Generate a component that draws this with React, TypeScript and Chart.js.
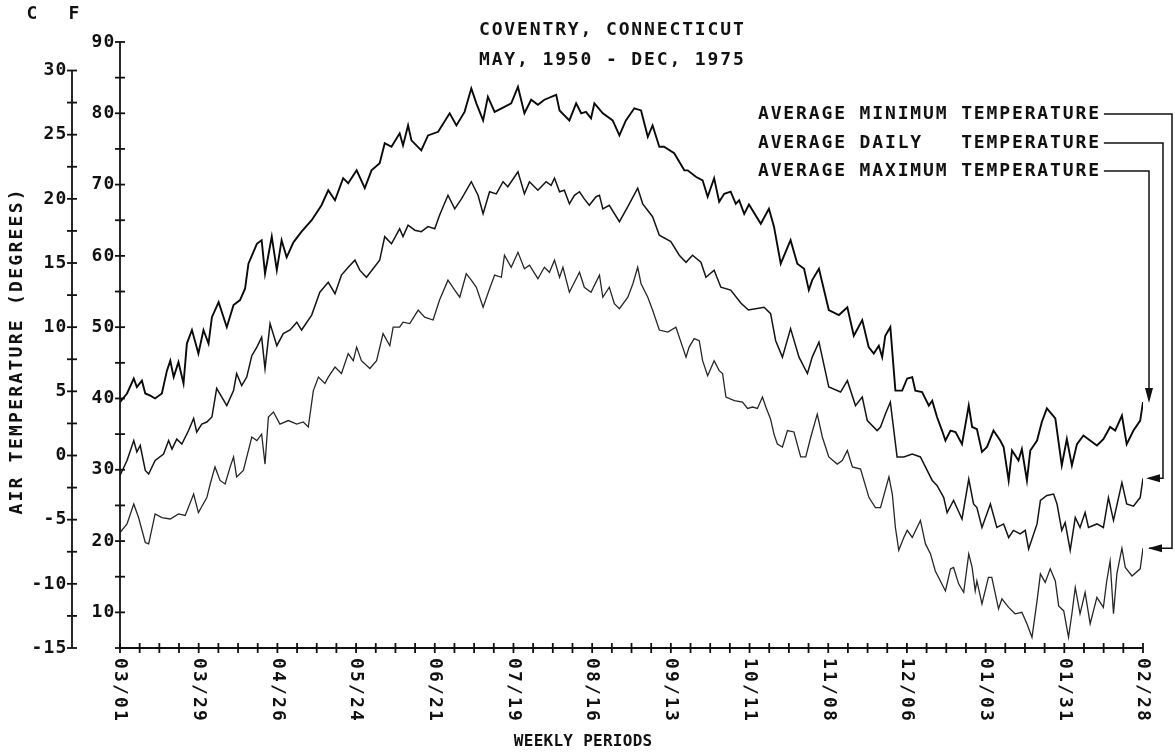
import React, { useEffect, useRef } from "react";
import { Chart, registerables } from "chart.js";

Chart.register(...registerables);

// ---------- text ----------
const titleLines = ["COVENTRY, CONNECTICUT", "MAY, 1950 - DEC, 1975"];
const legendLabels = [
  "AVERAGE MINIMUM TEMPERATURE",
  "AVERAGE DAILY   TEMPERATURE",
  "AVERAGE MAXIMUM TEMPERATURE",
];
const yTitle = "AIR TEMPERATURE (DEGREES)";
const xTitle = "WEEKLY PERIODS";

// ---------- ticks ----------
const xTickDays = [0, 28, 56, 84, 112, 140, 168, 196, 224, 252, 280, 308, 336, 364];
const xTickLabels = ["03/01", "03/29", "04/26", "05/24", "06/21", "07/19", "08/16", "09/13", "10/11", "11/08", "12/06", "01/03", "01/31", "02/28"];
const fLabelTicks = [10, 20, 30, 40, 50, 60, 70, 80, 90];
const fMinorTicks = [5, 10, 15, 20, 25, 30, 35, 40, 45, 50, 55, 60, 65, 70, 75, 80, 85, 90];
const cLabelTicks = [-15, -10, -5, 0, 5, 10, 15, 20, 25, 30];
const cMinorTicks = [-15, -12.5, -10, -7.5, -5, -2.5, 0, 2.5, 5, 7.5, 10, 12.5, 15, 17.5, 20, 22.5, 25, 27.5, 30];

// ---------- data (day from 03/01, degrees F) ----------
const maxDays = [0, 2.5, 4.9, 6.0, 7.8, 9.0, 10.8, 12.5, 14.9, 16.7, 17.9, 19.1, 20.8, 22.6, 23.8, 25.6, 27.9, 29.7, 31.5, 32.7, 35.1, 38.0, 40.4, 42.7, 44.5, 45.7, 48.7, 50.4, 51.6, 54.0, 55.8, 57.5, 59.3, 61.7, 64.6, 68.2, 71.7, 74.1, 76.5, 79.4, 81.2, 84.2, 87.1, 89.5, 92.4, 94.2, 96.6, 99.5, 100.7, 102.5, 103.7, 107.2, 109.6, 113.2, 117.3, 119.7, 122.6, 125.0, 126.8, 129.2, 130.9, 133.3, 136.8, 139.2, 141.6, 143.9, 146.3, 148.7, 151.0, 155.2, 156.4, 159.9, 162.3, 164.1, 165.8, 167.6, 168.8, 171.8, 175.3, 177.7, 180.0, 183.0, 185.4, 187.8, 189.5, 191.9, 193.6, 197.2, 200.8, 202.0, 204.9, 207.3, 209.1, 211.4, 213.2, 215.0, 217.3, 219.1, 220.3, 222.1, 223.8, 228.0, 230.9, 232.7, 235.1, 238.6, 241.0, 243.4, 245.1, 246.3, 248.7, 252.2, 255.8, 258.8, 261.1, 264.1, 266.4, 268.2, 270.0, 271.2, 272.3, 274.1, 275.9, 278.3, 280.1, 281.9, 283.0, 285.4, 287.8, 289.0, 290.7, 292.5, 293.7, 295.5, 297.3, 299.6, 302.0, 303.2, 304.9, 306.7, 308.5, 310.8, 313.2, 314.4, 316.2, 317.4, 319.7, 320.9, 322.7, 323.9, 326.3, 328.0, 329.8, 332.8, 335.1, 336.9, 338.7, 340.5, 342.8, 347.6, 349.9, 352.3, 354.1, 356.5, 358.2, 360.6, 363.0, 364];
const maxTemps = [39.5, 40.7, 42.8, 41.6, 42.5, 40.7, 40.4, 40.0, 40.7, 43.9, 45.3, 43.0, 45.1, 42.1, 47.7, 49.6, 46.3, 49.6, 47.7, 51.4, 53.5, 50.0, 53.1, 53.8, 55.4, 58.9, 61.7, 62.2, 57.5, 62.7, 58.0, 62.2, 59.8, 61.9, 63.4, 65.0, 67.1, 69.2, 67.8, 70.9, 70.2, 72.0, 69.5, 72.0, 73.0, 75.8, 75.3, 77.2, 75.5, 78.3, 76.2, 74.8, 76.9, 77.4, 80.0, 78.3, 80.2, 83.5, 81.4, 79.0, 82.3, 80.2, 80.9, 81.4, 83.7, 80.0, 81.9, 81.2, 81.9, 82.6, 80.4, 79.0, 81.4, 80.0, 80.2, 79.3, 81.4, 80.0, 79.0, 76.9, 79.0, 80.7, 80.4, 76.7, 78.3, 75.3, 75.3, 74.4, 72.0, 72.0, 71.1, 70.6, 68.3, 70.9, 67.6, 68.7, 69.0, 67.3, 67.8, 65.9, 67.2, 64.5, 66.6, 64.1, 58.9, 62.2, 58.9, 58.2, 55.2, 56.6, 58.2, 52.4, 51.7, 52.8, 48.8, 51.0, 47.2, 46.3, 47.4, 45.8, 48.8, 50.0, 41.1, 41.1, 42.8, 43.0, 41.1, 40.9, 39.0, 39.7, 37.4, 35.5, 34.1, 35.5, 35.3, 33.6, 39.0, 36.0, 35.7, 32.5, 33.2, 35.5, 34.1, 33.2, 28.5, 32.7, 31.3, 32.9, 28.5, 32.7, 34.1, 36.7, 38.6, 37.2, 30.6, 34.3, 30.6, 33.6, 34.8, 33.4, 34.3, 36.0, 35.5, 37.6, 33.6, 35.5, 36.9, 39.5];

const dailyDays = [0, 2.5, 4.9, 6.0, 7.2, 9.0, 10.2, 12.5, 15.5, 17.3, 18.5, 20.2, 22.0, 24.4, 26.2, 27.3, 29.1, 30.9, 32.7, 34.4, 38.0, 40.4, 41.5, 43.3, 45.1, 46.9, 48.7, 50.4, 51.6, 53.4, 55.8, 58.1, 60.5, 62.9, 64.6, 68.2, 71.1, 74.1, 76.5, 78.8, 81.2, 83.6, 85.3, 87.7, 92.4, 94.2, 96.6, 99.5, 100.7, 102.5, 104.9, 107.2, 109.6, 112.0, 113.7, 116.7, 119.1, 121.5, 125.0, 127.4, 129.2, 131.5, 133.9, 136.3, 138.0, 141.6, 143.9, 145.7, 148.7, 151.6, 153.4, 154.6, 156.4, 158.1, 159.9, 161.7, 163.5, 165.2, 167.0, 169.4, 170.6, 171.8, 174.1, 177.7, 180.7, 184.2, 186.0, 189.5, 191.9, 196.0, 199.0, 201.4, 203.7, 206.7, 208.5, 211.4, 213.8, 217.3, 220.9, 223.6, 229.2, 231.5, 233.3, 235.7, 238.6, 241.6, 244.6, 246.3, 248.7, 252.2, 256.4, 258.8, 261.7, 264.1, 265.9, 269.4, 270.6, 272.3, 274.1, 276.5, 278.9, 281.9, 284.8, 289.0, 290.7, 293.1, 294.3, 296.6, 299.6, 302.0, 303.7, 304.9, 306.7, 309.7, 312.0, 314.4, 316.2, 317.9, 320.3, 322.1, 323.3, 326.3, 327.5, 329.8, 332.2, 333.4, 335.1, 336.3, 338.1, 339.9, 341.6, 343.4, 344.6, 347.6, 349.9, 351.7, 353.5, 356.5, 358.2, 360.6, 363.0, 364];
const dailyTemps = [29.2, 31.3, 34.1, 32.5, 33.4, 29.9, 29.4, 31.3, 32.2, 34.1, 32.9, 34.3, 33.6, 35.5, 37.2, 35.3, 36.4, 36.7, 37.4, 41.4, 39.0, 41.1, 43.5, 41.8, 43.0, 46.0, 47.2, 48.6, 44.2, 50.5, 47.4, 49.1, 49.6, 50.7, 49.6, 51.7, 54.9, 56.3, 54.7, 57.3, 58.4, 59.4, 58.0, 57.0, 59.4, 62.7, 61.7, 63.8, 62.7, 64.3, 63.6, 63.4, 64.1, 63.8, 65.7, 68.5, 66.6, 68.0, 70.4, 68.5, 65.9, 69.0, 68.7, 70.4, 69.7, 71.8, 68.7, 70.4, 69.2, 70.4, 69.9, 70.9, 69.0, 69.2, 67.3, 68.5, 69.0, 68.0, 67.1, 68.3, 68.5, 66.6, 67.1, 64.8, 66.9, 69.5, 67.3, 65.5, 62.9, 62.0, 60.1, 59.1, 60.1, 59.1, 57.0, 58.0, 55.6, 55.2, 53.4, 52.4, 52.8, 51.9, 48.1, 45.8, 49.8, 45.8, 43.5, 45.8, 47.9, 41.6, 40.9, 42.5, 39.0, 40.2, 36.9, 35.5, 36.0, 37.8, 39.5, 31.8, 31.8, 32.2, 31.8, 28.5, 27.8, 26.1, 24.0, 25.7, 23.1, 28.7, 25.2, 24.7, 21.9, 25.2, 21.9, 22.4, 20.5, 21.5, 21.0, 21.5, 18.9, 22.4, 25.7, 26.4, 26.6, 25.2, 21.5, 22.6, 18.7, 23.3, 21.9, 24.0, 21.9, 22.4, 21.9, 26.1, 22.9, 28.2, 25.2, 24.9, 26.1, 28.8];

const minDays = [0, 2.5, 4.9, 6.6, 9.0, 10.2, 12.5, 14.9, 17.9, 20.8, 23.2, 26.2, 27.9, 30.9, 32.1, 33.8, 35.6, 37.4, 39.2, 40.4, 41.5, 43.9, 46.9, 48.7, 50.4, 51.6, 52.8, 54.6, 56.9, 59.9, 62.9, 65.2, 67.0, 68.8, 70.6, 72.9, 74.1, 76.5, 78.8, 81.2, 83.0, 84.2, 85.9, 88.9, 91.3, 93.6, 96.0, 97.2, 99.5, 100.7, 103.1, 106.1, 108.4, 111.4, 113.7, 116.7, 119.1, 120.9, 123.2, 125.0, 126.8, 129.2, 131.5, 133.3, 135.7, 136.8, 139.2, 141.6, 143.9, 145.7, 148.7, 151.0, 152.8, 154.6, 156.4, 157.6, 159.9, 163.5, 165.2, 167.6, 170.6, 171.8, 174.1, 175.9, 177.7, 180.7, 182.5, 184.2, 185.4, 187.8, 189.5, 191.9, 194.9, 197.8, 200.2, 201.4, 202.5, 204.3, 206.1, 207.3, 209.1, 211.4, 213.2, 214.4, 215.6, 218.6, 221.5, 223.3, 225.1, 226.8, 228.6, 229.8, 231.5, 232.7, 233.9, 235.7, 237.5, 239.8, 242.2, 244.0, 245.8, 248.1, 249.9, 252.2, 255.2, 257.0, 258.8, 260.6, 263.5, 266.5, 268.8, 270.6, 273.6, 274.8, 275.9, 277.1, 278.9, 280.1, 281.9, 284.8, 286.6, 288.4, 290.1, 291.9, 293.7, 295.5, 296.6, 298.4, 300.2, 302.0, 303.2, 304.3, 304.9, 306.7, 309.0, 310.2, 312.6, 313.8, 316.2, 318.5, 320.9, 322.7, 324.5, 326.3, 327.5, 329.2, 331.0, 332.8, 334.0, 335.8, 337.5, 338.7, 339.9, 341.6, 343.4, 345.2, 347.6, 349.9, 351.1, 352.3, 353.5, 354.7, 356.5, 357.7, 360.1, 363.0, 364];
const minTemps = [21.2, 22.4, 25.2, 23.3, 19.8, 19.6, 23.8, 23.3, 23.1, 23.8, 23.6, 26.6, 24.0, 26.1, 28.0, 30.4, 28.5, 28.0, 30.4, 31.8, 29.0, 29.9, 34.6, 34.1, 35.0, 30.8, 37.4, 38.1, 36.4, 36.9, 36.4, 36.7, 36.0, 41.1, 43.0, 42.1, 43.0, 44.4, 43.5, 46.3, 45.3, 47.2, 45.3, 44.2, 45.3, 49.1, 47.4, 50.0, 50.0, 50.7, 50.5, 52.4, 51.4, 51.0, 53.8, 56.6, 55.2, 54.2, 57.5, 56.6, 55.6, 52.8, 55.4, 57.3, 57.0, 60.1, 58.4, 60.5, 58.2, 58.7, 56.8, 58.4, 57.7, 59.4, 57.0, 58.4, 54.9, 57.7, 55.6, 54.9, 57.3, 54.2, 55.6, 53.3, 52.6, 54.2, 56.1, 58.4, 56.1, 54.2, 52.4, 49.6, 49.3, 50.0, 47.2, 45.8, 47.2, 48.4, 48.1, 45.3, 43.2, 45.3, 43.9, 43.5, 40.2, 39.7, 39.5, 38.6, 38.8, 38.6, 40.2, 38.8, 37.1, 35.0, 33.6, 33.2, 35.5, 35.3, 31.8, 31.8, 34.6, 37.8, 34.6, 31.8, 30.8, 31.3, 32.7, 30.4, 30.1, 26.1, 24.7, 24.7, 29.0, 26.6, 21.9, 18.7, 20.5, 21.5, 20.5, 22.9, 19.6, 18.2, 15.8, 14.4, 13.0, 16.1, 16.3, 14.0, 12.8, 18.2, 16.3, 13.0, 14.4, 11.2, 14.9, 14.9, 10.5, 11.9, 10.7, 9.8, 10.0, 8.4, 6.5, 11.6, 15.4, 14.2, 16.1, 14.4, 10.9, 10.2, 6.5, 9.8, 13.5, 9.8, 12.8, 8.4, 12.1, 10.7, 14.4, 17.2, 9.8, 15.4, 19.0, 16.3, 15.1, 16.1, 19.0];

// ---------- style ----------
const INK = "#111111";
const FONT = "DejaVu Sans Mono";

const c2f = (c: number) => (c * 9) / 5 + 32;

function drawSpaced(ctx: CanvasRenderingContext2D, text: string, x: number, y: number, adv: number, align: "left" | "center" | "right") {
  const total = text.length * adv;
  const start = align === "left" ? x : align === "center" ? x - total / 2 : x - total;
  ctx.textAlign = "center";
  ctx.textBaseline = "middle";
  for (let i = 0; i < text.length; i++) {
    ctx.fillText(text[i], start + adv * (i + 0.5), y);
  }
}

function seg(ctx: CanvasRenderingContext2D, x1: number, y1: number, x2: number, y2: number) {
  ctx.beginPath();
  ctx.moveTo(x1, y1);
  ctx.lineTo(x2, y2);
  ctx.stroke();
}

const plotterPlugin = {
  id: "plotterAxes",
  afterDraw(chart: any) {
    const ctx: CanvasRenderingContext2D = chart.ctx;
    const xs = chart.scales.x;
    const ys = chart.scales.y;
    const X = (d: number) => xs.getPixelForValue(d);
    const Y = (f: number) => ys.getPixelForValue(f);
    ctx.save();
    ctx.strokeStyle = INK;
    ctx.fillStyle = INK;
    ctx.lineWidth = 1.8;
    const F18 = `bold 18px "${FONT}"`;
    ctx.font = F18;
    const ADV = 12.7;

    // F axis
    const fx = X(0);
    seg(ctx, fx, Y(90), fx, Y(5));
    fMinorTicks.forEach((f) => seg(ctx, fx - 5, Y(f), fx + 5, Y(f)));
    fLabelTicks.forEach((f) => drawSpaced(ctx, String(f), fx - 5, Y(f), 12, "right"));

    // C axis
    const cx = 72;
    seg(ctx, cx, Y(c2f(30)), cx, Y(c2f(-15)));
    cMinorTicks.forEach((c) => seg(ctx, cx - 5, Y(c2f(c)), cx + 5, Y(c2f(c))));
    cLabelTicks.forEach((c) => drawSpaced(ctx, String(c), cx - 5, Y(c2f(c)), 12, "right"));

    // unit headers
    drawSpaced(ctx, "C", 32, 14, 12, "center");
    drawSpaced(ctx, "F", 74, 14, 12, "center");

    // y title
    ctx.save();
    ctx.translate(17, 352);
    ctx.rotate(-Math.PI / 2);
    drawSpaced(ctx, yTitle, 0, 0, 13.1, "center");
    ctx.restore();

    // x axis
    const by = Y(5);
    seg(ctx, X(0), by, X(364), by);
    for (let w = 0; w <= 52; w++) {
      seg(ctx, X(w * 7), by - 5, X(w * 7), by + 5);
    }
    xTickDays.forEach((d, i) => {
      ctx.save();
      ctx.translate(X(d), by + 9);
      ctx.rotate(Math.PI / 2);
      drawSpaced(ctx, xTickLabels[i], 0, 0, 13, "left");
      ctx.restore();
    });
    ctx.font = `bold 16px "${FONT}"`;
    drawSpaced(ctx, xTitle, 583, 742, 9.9, "center");

    // title
    ctx.font = F18;
    drawSpaced(ctx, titleLines[0], 478, 30, ADV, "left");
    drawSpaced(ctx, titleLines[1], 478, 60, ADV, "left");

    // legend text
    const legendY = [114, 143, 171];
    legendLabels.forEach((t, i) => drawSpaced(ctx, t, 757, legendY[i], ADV, "left"));
    const lx = 757 + 27 * ADV + 4;

    // connectors
    ctx.lineWidth = 1.5;
    const endX = X(364);
    // minimum -> left arrow
    const yMin = Y(minTemps[minTemps.length - 1]);
    ctx.beginPath();
    ctx.moveTo(lx, legendY[0]);
    ctx.lineTo(1172, legendY[0]);
    ctx.lineTo(1172, yMin);
    ctx.lineTo(endX + 6, yMin);
    ctx.stroke();
    ctx.beginPath();
    ctx.moveTo(endX + 5, yMin);
    ctx.lineTo(endX + 19, yMin - 4);
    ctx.lineTo(endX + 19, yMin + 4);
    ctx.closePath();
    ctx.fill();
    // daily -> left arrow
    const yDay = Y(dailyTemps[dailyTemps.length - 1]);
    ctx.beginPath();
    ctx.moveTo(lx, legendY[1]);
    ctx.lineTo(1163, legendY[1]);
    ctx.lineTo(1163, yDay);
    ctx.lineTo(endX + 6, yDay);
    ctx.stroke();
    ctx.beginPath();
    ctx.moveTo(endX + 3, yDay);
    ctx.lineTo(endX + 17, yDay - 4);
    ctx.lineTo(endX + 17, yDay + 4);
    ctx.closePath();
    ctx.fill();
    // maximum -> down arrow
    const yMax = Y(maxTemps[maxTemps.length - 1]);
    const ax = endX + 6;
    ctx.beginPath();
    ctx.moveTo(lx, legendY[2]);
    ctx.lineTo(ax, legendY[2]);
    ctx.lineTo(ax, yMax - 4);
    ctx.stroke();
    ctx.beginPath();
    ctx.moveTo(ax, yMax + 1);
    ctx.lineTo(ax - 4, yMax - 14);
    ctx.lineTo(ax + 4, yMax - 14);
    ctx.closePath();
    ctx.fill();

    ctx.restore();
  },
};

const toPoints = (days: number[], temps: number[]) => days.map((d, i) => ({ x: d, y: temps[i] }));

export default function App() {
  const ref = useRef<HTMLCanvasElement | null>(null);
  useEffect(() => {
    if (!ref.current) return;
    const chart = new Chart(ref.current, {
      type: "line",
      data: {
        datasets: [
          { label: "Average maximum", data: toPoints(maxDays, maxTemps), borderColor: "#0a0a0a", borderWidth: 1.9, pointRadius: 0, tension: 0, fill: false },
          { label: "Average daily", data: toPoints(dailyDays, dailyTemps), borderColor: "#141414", borderWidth: 1.5, pointRadius: 0, tension: 0, fill: false },
          { label: "Average minimum", data: toPoints(minDays, minTemps), borderColor: "#262626", borderWidth: 1.3, pointRadius: 0, tension: 0, fill: false },
        ],
      },
      options: {
        responsive: false,
        maintainAspectRatio: false,
        animation: false,
        layout: { padding: { left: 120, right: 32, top: 42, bottom: 108 } },
        plugins: { legend: { display: false }, tooltip: { enabled: false }, title: { display: false } },
        scales: {
          x: { type: "linear", min: 0, max: 364, display: false },
          y: { type: "linear", min: 5, max: 90, display: false },
        },
      },
      plugins: [plotterPlugin],
    } as any);
    return () => chart.destroy();
  }, []);
  return (
    <div style={{ position: "fixed", left: 0, top: 0, width: 1175, height: 756, background: "#ffffff" }}>
      <canvas ref={ref} width={1175} height={756} style={{ display: "block", width: 1175, height: 756 }} />
    </div>
  );
}
